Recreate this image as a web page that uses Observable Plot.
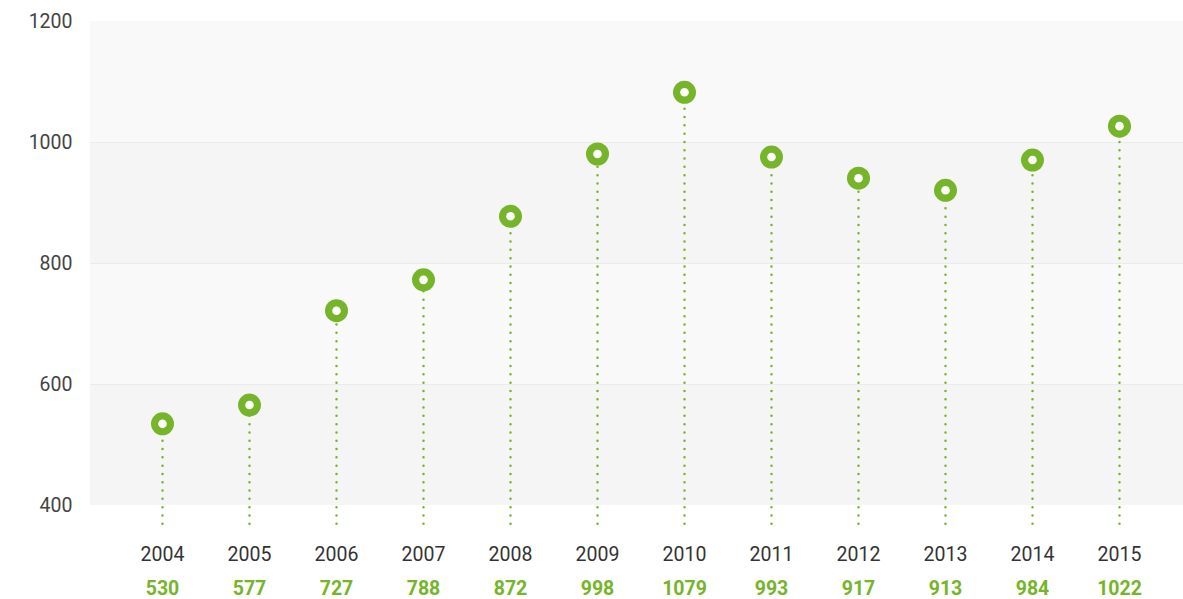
<!DOCTYPE html>
<html>
<head>
<meta charset="utf-8">
<script src="https://cdn.jsdelivr.net/npm/d3@7"></script>
<script src="https://cdn.jsdelivr.net/npm/@observablehq/plot@0.6"></script>
<style>
  html, body { margin: 0; padding: 0; background: #fff; }
  #chart { width: 1183px; height: 599px; }
</style>
</head>
<body>
<div id="chart"></div>
<script>
const years = [2004, 2005, 2006, 2007, 2008, 2009, 2010, 2011, 2012, 2013, 2014, 2015];
const dotValues = [535, 566, 722, 773, 878, 981, 1083, 976, 941, 921, 971, 1027];
const labels = ["530", "577", "727", "788", "872", "998", "1079", "993", "917", "913", "984", "1022"];
const bandStarts = [400, 600, 800, 1000];
const bandEnds = [600, 800, 1000, 1200];
const bandFills = ["#f5f5f5", "#f9f9f9", "#f5f5f5", "#f9f9f9"];
const gridValues = [600, 800, 1000];
const yTicks = [400, 600, 800, 1000, 1200];
const stemBottom = 369;

const data = years.map((y, i) => ({year: y, value: dotValues[i], label: labels[i]}));
const bands = bandStarts.map((s, i) => ({y1: s, y2: bandEnds[i], fill: bandFills[i]}));

const green = "#76b52a";

const chart = Plot.plot({
  width: 1183,
  height: 599,
  marginLeft: 90,
  marginRight: 0,
  marginTop: 21,
  marginBottom: 94,
  style: {fontFamily: "Roboto, sans-serif", fontSize: "19.5px", color: "#444", background: "#fff"},
  x: {type: "point", domain: years, range: [158, 1122], padding: 0},
  y: {domain: [400, 1200]},
  marks: [
    Plot.rectY(bands, {y1: "y1", y2: "y2", fill: d => d.fill}),
    Plot.ruleY(gridValues, {stroke: "#ebebeb", strokeWidth: 1}),
    Plot.axisY(yTicks, {tickSize: 0, tickPadding: 18, fontSize: 19.5, fill: "#444", label: null, tickFormat: d => String(d)}),
    Plot.axisX(years, {tickSize: 0, tickPadding: 42, fontSize: 19.5, fill: "#333", label: null, tickFormat: d => String(d)}),
    Plot.ruleX(data, {x: "year", y1: () => stemBottom, y2: "value", stroke: green, strokeWidth: 2.5, strokeDasharray: "0,8.3", strokeLinecap: "round", clip: false}),
    Plot.dot(data, {x: "year", y: "value", r: 11.5, fill: green, stroke: "none"}),
    Plot.dot(data, {x: "year", y: "value", r: 4.3, fill: "#fff", stroke: "none"}),
    Plot.text(data, {x: "year", text: "label", frameAnchor: "bottom", dy: 89, fill: green, fontWeight: "bold", fontSize: 19.5})
  ]
});
document.getElementById("chart").appendChild(chart);
</script>
</body>
</html>
